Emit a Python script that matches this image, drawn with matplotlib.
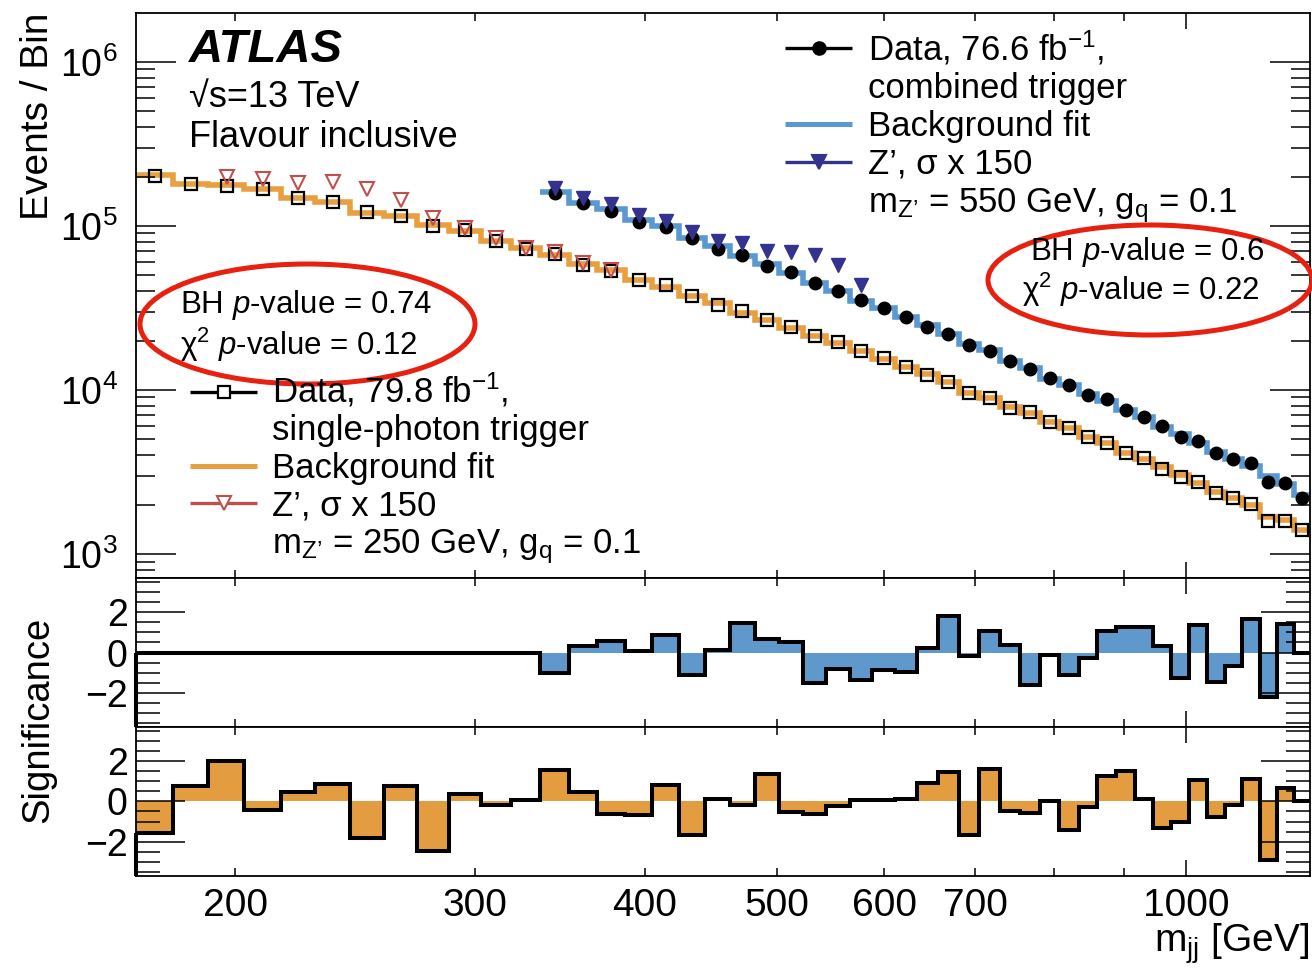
import numpy as np
import matplotlib
matplotlib.use("Agg")
import matplotlib.pyplot as plt
from matplotlib.patches import Ellipse
from matplotlib.lines import Line2D
from matplotlib.ticker import FixedLocator, FuncFormatter, LogLocator, NullFormatter, MultipleLocator

plt.rcParams['font.family'] = ['Liberation Sans', 'DejaVu Sans']
plt.rcParams['mathtext.fontset'] = 'custom'
plt.rcParams['mathtext.rm'] = 'Liberation Sans'
plt.rcParams['mathtext.it'] = 'Liberation Sans:italic'
plt.rcParams['mathtext.bf'] = 'Liberation Sans:bold'
plt.rcParams['mathtext.sf'] = 'Liberation Sans'

# ---------------- data ----------------
bin_edges = [169, 180, 191, 203, 216, 229, 243, 257, 272, 287, 303, 319, 335, 352, 369, 387,
             405, 424, 443, 462, 482, 502, 523, 544, 566, 588, 611, 634, 657, 681, 705, 730,
             755, 781, 807, 834, 861, 889, 917, 946, 976, 1006, 1037, 1068, 1100, 1133, 1166,
             1200, 1234]

# single-photon trigger (all bins)
data_sp = [201800, 180300, 175400, 167500, 148900, 140600, 121100, 115100, 100000, 94600,
           81300, 72100, 67300, 57800, 53200, 46900, 43700, 37400, 33000, 30300, 26700, 24100,
           21300, 19500, 17400, 15600, 13900, 12400, 11250, 9550, 8970, 7730, 7310, 6410, 5830,
           5190, 4730, 4110, 3830, 3280, 2960, 2760, 2370, 2190, 2020, 1600, 1600, 1400]
fit_sp = [204600, 180300, 177000, 169000, 147600, 140600, 120500, 115100, 101400, 93500,
          81100, 73100, 66500, 58300, 54000, 46900, 42700, 37400, 33800, 29600, 26700, 23800,
          21300, 19300, 17300, 15450, 13900, 12530, 11250, 9550, 8890, 7830, 7210, 6410, 5830,
          5190, 4730, 4110, 3780, 3380, 3030, 2720, 2400, 2190, 1990, 1690, 1610, 1400]
# Z' 250 GeV signal (bins 2..14)
zp250_first_bin = 2
zp250 = [199500, 192800, 183700, 186200, 167500, 144200, 111400, 97700, 84100, 73100, 69700,
         59300, 54200]

# combined trigger (bins 12..47)
comb_first_bin = 12
data_comb = [158100, 137400, 123900, 106200, 98200, 84100, 72400, 66500, 57000, 52600, 44800,
             40400, 35400, 31500, 28000, 24300, 22000, 18800, 17400, 15000, 13400, 11800, 10700,
             9330, 8770, 7550, 6870, 6030, 5190, 4910, 4110, 3780, 3570, 2760, 2720, 2190]
fit_comb = [160300, 137400, 126500, 108900, 100000, 84100, 75500, 65600, 58300, 51500, 44800,
            40300, 35100, 31800, 28000, 24900, 22100, 19100, 17500, 15000, 13600, 11700, 10700,
            9420, 8610, 7550, 6870, 5970, 5370, 4780, 4210, 3780, 3440, 2990, 2660, 2290]
# Z' 550 GeV signal (bins 12..24)
zp550_first_bin = 12
zp550 = [169800, 147600, 135500, 116700, 107200, 92300, 81300, 79100, 70600, 69700, 66500,
         57800, 43700]

# significances
sig_comb = [0, 0, 0, 0, 0, 0, 0, 0, 0, 0, 0, 0,
            -1.03, 0.30, 0.58, 0.05, 0.88, -1.12, 0.13, 1.47, 0.68, 0.52, -1.53, -0.83,
            -1.37, -0.87, -0.98, 0.22, 1.83, -0.15, 1.05, 0.35, -1.62, -0.12, -1.12, -0.25,
            1.08, 1.25, 1.25, 0.30, -1.28, 1.38, -1.45, -0.67, 1.68, -2.20, 1.42, 0.0]
sig_sp = [-1.57, 0.74, 1.98, -0.45, 0.45, 0.87, -1.82, 0.74, -2.48, 0.36, -0.17, 0.08,
          1.53, 0.45, -0.63, -0.69, 0.79, -1.68, 0.10, -0.17, 1.37, -0.53, -0.63, -0.21,
          0.08, 0.05, 0.13, 0.91, 1.44, -1.65, 1.62, -0.50, -0.58, 0.02, -1.40, -0.30,
          1.27, 1.49, 0.12, -1.32, -1.02, 1.07, -0.78, -0.17, 1.10, -2.89, 0.66, 0.0]

x_minor_ticks = [200, 300, 400, 500, 600, 700, 800, 900]
x_minor_labels = ['200', '300', '400', '500', '600', '700', '', '']
x_major_ticks = [1000]
x_major_labels = ['1000']
sig_ticks = [-2, 0, 2]

# ---------------- style ----------------
ORANGE = '#e89f40'
ORANGE_FILL = '#e39c3f'
BLUE = '#5a98d2'
BLUE_FILL = '#5f99cc'
RED = '#c0504d'
NAVY = '#33338f'
ELL = '#e8200f'

W_PX, H_PX = 1312, 968
def fx(px):
    return px / W_PX
def fy(py):
    return 1 - py / H_PX

fig = plt.figure(figsize=(13.12, 9.68), dpi=100)
left, width = 136 / W_PX, 1174 / W_PX
ax = fig.add_axes([left, fy(578.3), width, 565.0 / H_PX])
axm = fig.add_axes([left, fy(726.7), width, 148.4 / H_PX], sharex=ax)
axb = fig.add_axes([left, fy(876.0), width, 149.3 / H_PX], sharex=ax)

e = np.array(bin_edges, dtype=float)
c = 0.5 * (e[:-1] + e[1:])

# main panel
ax.stairs(fit_sp, e, baseline=None, color=ORANGE, lw=4.0, joinstyle='miter')
ax.stairs(fit_comb, e[comb_first_bin:], baseline=None, color=BLUE, lw=4.0, joinstyle='miter')
ax.plot(c, data_sp, ls='none', marker='s', ms=9, mfc='none', mec='k', mew=1.6)
ax.plot(c[comb_first_bin:], data_comb, ls='none', marker='o', ms=9, color='k')
ax.plot(c[zp250_first_bin:zp250_first_bin + len(zp250)], zp250, ls='none', marker='v',
        ms=10.5, mfc='none', mec=RED, mew=1.5)
ax.plot(c[zp550_first_bin:zp550_first_bin + len(zp550)], zp550, ls='none', marker='v',
        ms=9.5, color=NAVY)

ax.set_xscale('log')
ax.set_yscale('log')
ax.set_xlim(bin_edges[0], bin_edges[-1])
ax.set_ylim(711, 1.98e6)
ax.yaxis.set_major_locator(LogLocator(base=10))
ax.yaxis.set_minor_locator(LogLocator(base=10, subs=np.arange(2, 10)))
ax.yaxis.set_minor_formatter(NullFormatter())

# significance panels
SIG_LIM = (-3.7, 3.7)
for axx, sig, fc in ((axm, sig_comb, BLUE_FILL), (axb, sig_sp, ORANGE_FILL)):
    axx.stairs(sig, e, baseline=0, fill=True, color=fc, lw=0)
    axx.stairs(sig, e, baseline=None, color='k', lw=2.9, joinstyle='miter')
    axx.plot([e[0], e[0]], [SIG_LIM[0], sig[0]], color='k', lw=2.9, clip_on=False,
             solid_capstyle='butt')
    axx.set_ylim(*SIG_LIM)
    axx.yaxis.set_major_locator(FixedLocator(sig_ticks))
    axx.yaxis.set_minor_locator(MultipleLocator(0.5))
    axx.tick_params(axis='y', which='major', length=35, width=1.1, direction='in',
                    left=True, right=True, labelsize=27, pad=6)
    axx.tick_params(axis='y', which='minor', length=17, width=1.1, direction='in',
                    left=True, right=True)

# x ticks
lab_minor = dict(zip(x_minor_ticks, x_minor_labels))
lab_major = dict(zip(x_major_ticks, x_major_labels))
ax.xaxis.set_major_locator(FixedLocator(x_major_ticks))
ax.xaxis.set_minor_locator(FixedLocator(x_minor_ticks))
ax.xaxis.set_major_formatter(FuncFormatter(lambda v, p: lab_major.get(int(round(v)), '')))
ax.xaxis.set_minor_formatter(FuncFormatter(lambda v, p: lab_minor.get(int(round(v)), '')))

for axx in (ax, axm, axb):
    axx.tick_params(axis='x', which='major', length=11.5, width=1.1, direction='in',
                    top=True, bottom=True, labelsize=28, pad=9)
    axx.tick_params(axis='x', which='minor', length=6, width=1.1, direction='in',
                    top=True, bottom=True, labelsize=28, pad=9)
    for s in axx.spines.values():
        s.set_linewidth(1.3)
for axx in (ax, axm):
    axx.tick_params(axis='x', which='both', labelbottom=False)

ax.tick_params(axis='y', which='major', length=29, width=1.1, direction='in',
               left=True, right=True, labelsize=27, pad=13)
ax.tick_params(axis='y', which='minor', length=14, width=1.1, direction='in',
               left=True, right=True)

# axis titles
fig.text(fx(38), fy(13), 'Events / Bin', rotation=90, ha='center', va='top', fontsize=28)
fig.text(fx(38), fy(617), 'Significance', rotation=90, ha='center', va='top', fontsize=27.5)
fig.text(fx(1309), fy(952), r'm$_{\mathrm{jj}}$ [GeV]', ha='right', va='baseline', fontsize=28)

# labels
fig.text(fx(189), fy(61.7), 'ATLAS', fontsize=34, fontweight='bold', fontstyle='italic',
         va='baseline')
fig.text(fx(189), fy(106.7), '√s=13 TeV', fontsize=26, va='baseline')
fig.text(fx(189), fy(146.7), 'Flavour inclusive', fontsize=26, va='baseline')

# legend, top right
LFS = 25
def leg_line(x0, x1, y, color, lw, marker=None, ms=None, mfc=None, mew=1.5):
    fig.add_artist(Line2D([fx(x0), fx(x1)], [fy(y), fy(y)], color=color, lw=lw,
                          solid_capstyle='butt'))
    if marker is not None:
        fig.add_artist(Line2D([fx(0.5 * (x0 + x1))], [fy(y)], ls='none', marker=marker,
                              ms=ms, color=color, mfc=mfc if mfc else color, mec=color,
                              mew=mew))

leg_line(785, 852, 48, 'k', 2.4, 'o', 9)
leg_line(785, 852, 124, BLUE, 3.6)
leg_line(785, 852, 162, NAVY, 2.4, 'v', 9.5)
fig.text(fx(868), fy(60), r'Data, 76.6 fb$^{-1}$,', fontsize=LFS, va='baseline')
fig.text(fx(868), fy(98), 'combined trigger', fontsize=LFS, va='baseline')
fig.text(fx(868), fy(136), 'Background fit', fontsize=LFS, va='baseline')
fig.text(fx(868), fy(174), 'Z’, σ x 150', fontsize=LFS, va='baseline')
fig.text(fx(868), fy(212), r'm$_{\mathrm{Z’}}$ = 550 GeV, g$_{\mathrm{q}}$ = 0.1',
         fontsize=LFS, va='baseline')

# legend, lower left
leg_line(190, 257, 392, 'k', 2.4, 's', 9, mfc='white', mew=1.6)
leg_line(190, 257, 466, ORANGE, 3.6)
leg_line(190, 257, 503, RED, 2.4, 'v', 10.5, mfc='white', mew=1.5)
fig.text(fx(272), fy(402), r'Data, 79.8 fb$^{-1}$,', fontsize=LFS, va='baseline')
fig.text(fx(272), fy(440), 'single-photon trigger', fontsize=LFS, va='baseline')
fig.text(fx(272), fy(478), 'Background fit', fontsize=LFS, va='baseline')
fig.text(fx(272), fy(515), 'Z’, σ x 150', fontsize=LFS, va='baseline')
fig.text(fx(272), fy(553), r'm$_{\mathrm{Z’}}$ = 250 GeV, g$_{\mathrm{q}}$ = 0.1',
         fontsize=LFS, va='baseline')

# p-values and circles
PFS = 22.5
fig.text(fx(180), fy(313), r'BH $p$-value = 0.74', fontsize=PFS, va='baseline')
fig.text(fx(180), fy(355), r'χ$^{2}$ $p$-value = 0.12', fontsize=PFS, va='baseline')
fig.text(fx(1030), fy(260), r'BH $p$-value = 0.6', fontsize=PFS, va='baseline')
fig.text(fx(1022), fy(300), r'χ$^{2}$ $p$-value = 0.22', fontsize=PFS, va='baseline')
fig.add_artist(Ellipse((fx(307.5), fy(324)), 335 / W_PX, 120 / H_PX,
                       transform=fig.transFigure, fill=False, ec=ELL, lw=3.6))
fig.add_artist(Ellipse((fx(1150), fy(280)), 324 / W_PX, 110 / H_PX,
                       transform=fig.transFigure, fill=False, ec=ELL, lw=3.6))

fig.savefig('out.png', dpi=100)
